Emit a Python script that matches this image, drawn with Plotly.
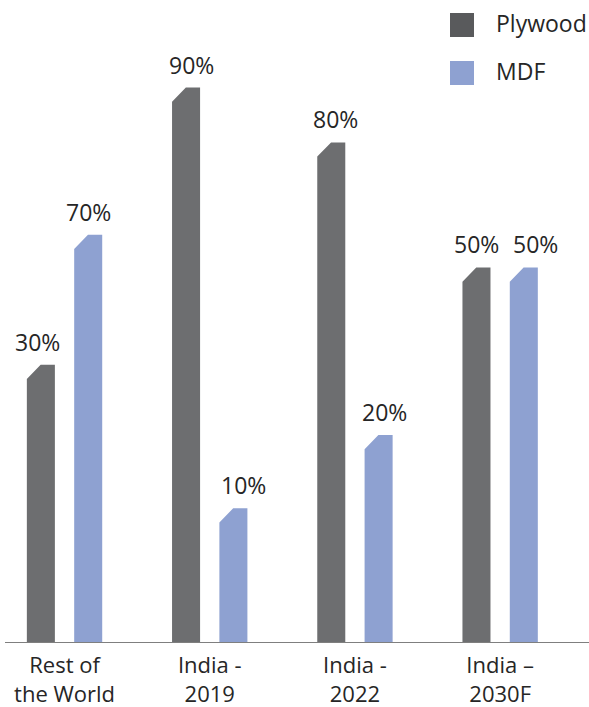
import plotly.graph_objects as go

# ---- data ----
categories = ["Rest of<br>the World", "India -<br>2019", "India -<br>2022", "India –<br>2030F"]
series_names = ["Plywood", "MDF"]
plywood_labels = ["30%", "90%", "80%", "50%"]
mdf_labels = ["70%", "10%", "20%", "50%"]
# bar heights as drawn in the picture (the infographic is not drawn to scale)
plywood_heights = [45.0, 90.0, 81.1, 60.8]
mdf_heights = [66.1, 21.7, 33.6, 60.8]

# ---- style ----
bar_colors = ["#6d6e70", "#8ea1d1"]
legend_colors = ["#595a5c", "#8ea1d1"]
text_color = "#262626"
FONT = "Open Sans"
offset = 0.163
half_w = 0.0965
cham_x = 0.095
cham_y = 2.3
plywood_label_xshift = [-3, 5, 4, 0]
mdf_label_xshift = [0, 10, 6, 12]

fig = go.Figure()

def add_series(heights, labels, shifts, dx, color, name):
    xs, ys = [], []
    for i, h in enumerate(heights):
        c = i + dx
        x0, x1 = c - half_w, c + half_w
        xs += [x0, x0, x0 + cham_x, x1, x1, x0, None]
        ys += [0, h - cham_y, h, h, 0, 0, None]
    fig.add_trace(go.Scatter(x=xs, y=ys, mode="lines", fill="toself",
                             fillcolor=color, line=dict(width=0, color=color),
                             name=name, showlegend=False, hoverinfo="skip"))
    for i, (h, t) in enumerate(zip(heights, labels)):
        fig.add_annotation(x=i + dx, y=h, text=t, showarrow=False,
                           yanchor="middle", yshift=23, xshift=shifts[i],
                           font=dict(family=FONT, size=23, color=text_color))

add_series(plywood_heights, plywood_labels, plywood_label_xshift, -offset, bar_colors[0], series_names[0])
add_series(mdf_heights, mdf_labels, mdf_label_xshift, offset, bar_colors[1], series_names[1])

# legend (custom squares)
for k, (nm, col) in enumerate(zip(series_names, legend_colors)):
    y0 = 13 + 48 * k
    fig.add_shape(type="rect", xref="paper", yref="paper",
                  x0=(450 - 5) / 584, x1=(474 - 5) / 584,
                  y0=1 - (y0 + 24 - 26) / 616, y1=1 - (y0 - 26) / 616,
                  fillcolor=col, line=dict(width=0), layer="above")
    fig.add_annotation(xref="paper", yref="paper",
                       x=(494 - 5) / 584, y=1 - (y0 + 10 - 26) / 616,
                       text=nm, showarrow=False, xanchor="left", yanchor="middle",
                       font=dict(family=FONT, size=23, color=text_color))

fig.update_layout(
    width=589, height=707,
    margin=dict(l=5, r=0, t=26, b=65),
    plot_bgcolor="white", paper_bgcolor="white",
    showlegend=False,
    xaxis=dict(range=[-0.41, 3.612], tickvals=list(range(len(categories))),
               ticktext=categories, showgrid=False, zeroline=False,
               showline=True, linecolor="#7f7f7f", linewidth=1,
               ticks="", ticklabelstandoff=4,
               tickfont=dict(family=FONT, size=22, color=text_color),
               fixedrange=True),
    yaxis=dict(range=[0, 100], visible=False, fixedrange=True),
)

fig.write_html("out.html", config={"displayModeBar": False},
               post_script="document.body.style.margin='0';document.body.style.overflow='hidden';")
